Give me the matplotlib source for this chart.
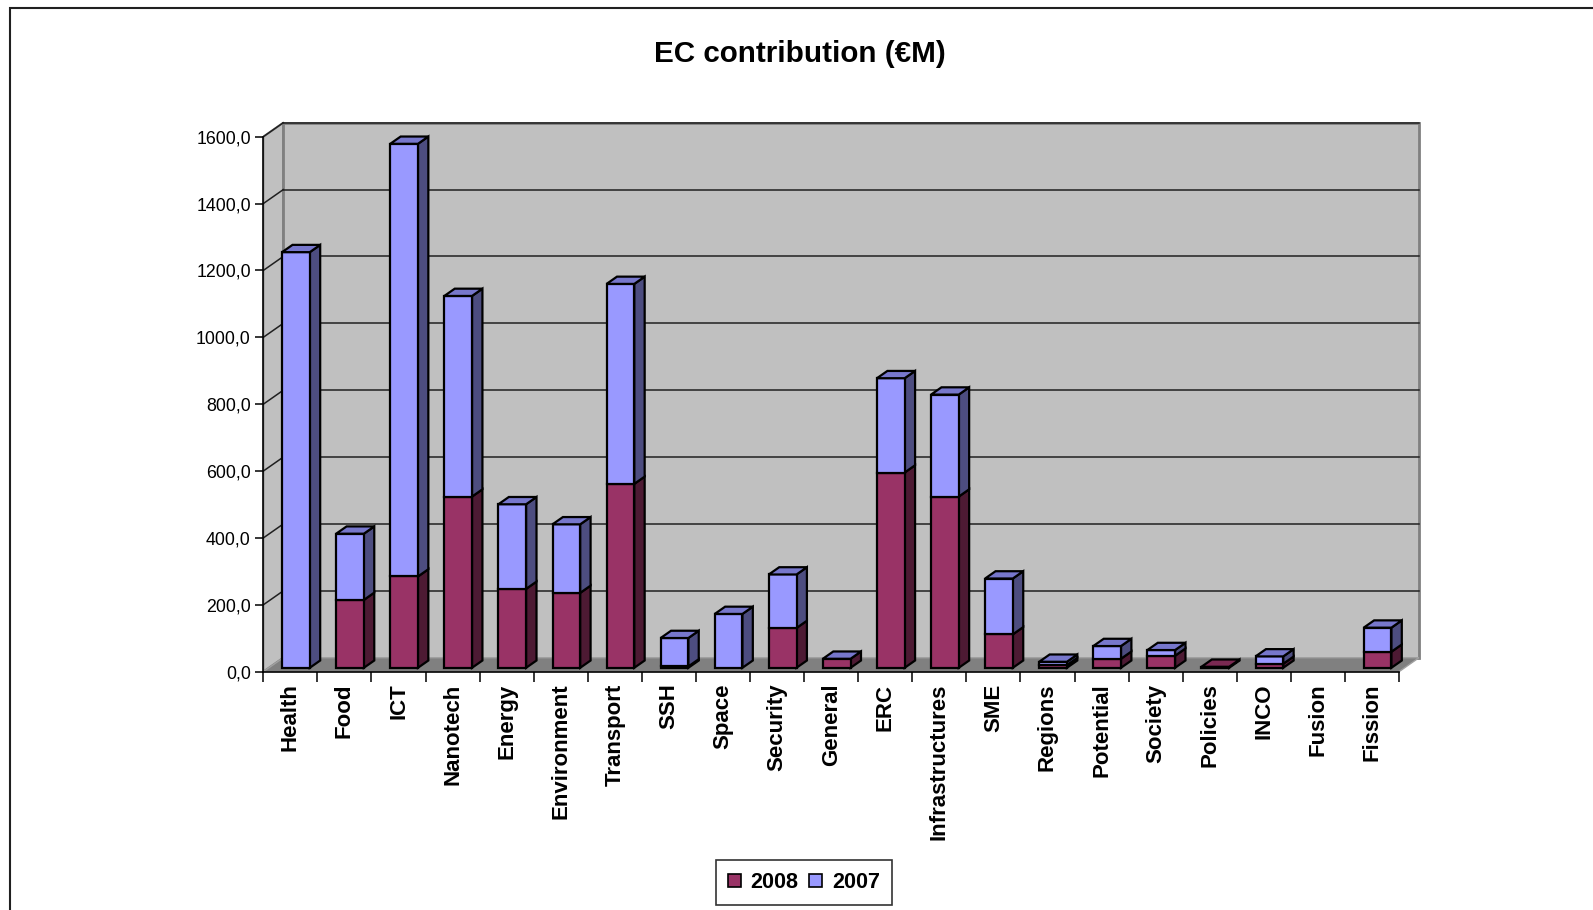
import numpy as np
import matplotlib
matplotlib.use('Agg')
import matplotlib.pyplot as plt
from matplotlib.patches import Polygon, Rectangle, Patch

plt.rcParams['font.family'] = ['Liberation Sans', 'DejaVu Sans']

# data (EUR million)
categories = ['Health', 'Food', 'ICT', 'Nanotech', 'Energy', 'Environment', 'Transport',
              'SSH', 'Space', 'Security', 'General', 'ERC', 'Infrastructures', 'SME',
              'Regions', 'Potential', 'Society', 'Policies', 'INCO', 'Fusion', 'Fission']
v2008 = [0, 203, 273, 512, 236, 224, 550, 4, 0, 119, 27, 584, 512, 100,
         8, 27, 36, 3, 12, np.nan, 48]
v2007 = [1243, 198, 1294, 600, 253, 205, 598, 85, 161, 160, 0, 282, 305, 167,
         10, 38, 17, np.nan, 22, np.nan, 72]
yticks = [0, 200, 400, 600, 800, 1000, 1200, 1400, 1600]
series = [('2008', v2008), ('2007', v2007)]

colors = {
    '2008': {'front': '#993366', 'side': '#4D1A33', 'top': '#7A2952'},
    '2007': {'front': '#9999FF', 'side': '#4D4D80', 'top': '#7777CC'},
}

W, H = 1593, 910
fig = plt.figure(figsize=(W / 100, H / 100), dpi=100)

# pixel geometry of the front plane
x_left, x_right = 263.3, 1399.0
y_zero, y_top = 671.7, 136.7
n = len(categories)
px_cat = (x_right - x_left) / n
px_val = (y_zero - y_top) / 1600
DX = 20 / px_cat          # depth offset, category units
DY = 14 / px_val          # depth offset, value units
xmax = n + DX + 0.06
ymax = 1600 + DY + 5
right_px = x_left + xmax * px_cat
top_px = y_zero - ymax * px_val
ax = fig.add_axes([x_left / W, 1 - y_zero / H,
                   (right_px - x_left) / W, (y_zero - top_px) / H])
ax.set_xlim(0, xmax)
ax.set_ylim(0, ymax)
ax.set_facecolor('none')

wall = '#C0C0C0'
edge = '#808080'
# left side wall
ax.add_patch(Polygon([(0, 0), (DX, DY), (DX, 1600 + DY), (0, 1600)], closed=True,
                     facecolor=wall, edgecolor=edge, lw=1.5, zorder=0))
# back wall
ax.add_patch(Rectangle((DX, DY), n, 1600, facecolor=wall, edgecolor=edge, lw=2, zorder=0))
# floor
ax.add_patch(Polygon([(0, 0), (n, 0), (n + DX, DY), (DX, DY)], closed=True,
                     facecolor='#808080', edgecolor='#A0A0A0', lw=1, zorder=0.5))
# gridlines on walls
for v in yticks[1:]:
    ax.plot([DX, n + DX], [v + DY, v + DY], color='#202020', lw=1.1, zorder=0.6)
    ax.plot([0, DX], [v, v + DY], color='#202020', lw=1.1, zorder=0.6)

# 3D-looking stacked bars
f = 0.28      # front face position within the depth
d = 0.52      # bar depth as fraction of full depth
w = 0.512     # bar width in category units
for i in range(n):
    x0 = i + 0.5 - w / 2 + f * DX
    base = 0.0
    top_color = None
    for name, vals in series:
        v = vals[i]
        if np.isnan(v):
            continue
        c = colors[name]
        b = base + f * DY
        if v > 0:
            ax.bar(x0, v, width=w, bottom=b, align='edge', color=c['front'],
                   edgecolor='black', lw=1.6, zorder=2 + i * 0.01)
            ax.add_patch(Polygon([(x0 + w, b), (x0 + w + d * DX, b + d * DY),
                                  (x0 + w + d * DX, b + v + d * DY), (x0 + w, b + v)],
                                 closed=True, facecolor=c['side'], edgecolor='black',
                                 lw=1.6, zorder=1.9 + i * 0.01))
        base += v
        top_color = c['top']
    if top_color is not None:
        t = base + f * DY
        ax.add_patch(Polygon([(x0, t), (x0 + w, t), (x0 + w + d * DX, t + d * DY),
                              (x0 + d * DX, t + d * DY)], closed=True,
                             facecolor=top_color, edgecolor='black', lw=1.6,
                             zorder=2.05 + i * 0.01))

# axes lines, ticks and labels
for s in ['top', 'right']:
    ax.spines[s].set_visible(False)
ax.spines['left'].set_bounds(0, 1600)
ax.spines['bottom'].set_bounds(0, n)
ax.spines['left'].set_linewidth(1.2)
ax.spines['bottom'].set_linewidth(1.2)
ax.set_yticks(yticks)
ax.set_yticklabels([f'{v},0' for v in yticks], fontsize=12.8)
ax.tick_params(axis='y', direction='out', length=6, width=1.1, pad=3)
ax.set_xticks(np.arange(n + 1))
ax.set_xticklabels([])
ax.tick_params(axis='x', which='major', direction='out', length=7, width=1.1)
ax.set_xticks(np.arange(n) + 0.5, minor=True)
ax.set_xticklabels(categories, minor=True, rotation=90, fontsize=16, fontweight='bold')
ax.tick_params(axis='x', which='minor', length=0, pad=8.5)

fig.text(800 / W, 1 - 54.5 / H, 'EC contribution (€M)', ha='center', va='center',
         fontsize=21.3, fontweight='bold')

handles = [Patch(facecolor=colors[k]['front'], edgecolor='black', lw=1.2) for k, _ in series]
leg = fig.legend(handles, [k for k, _ in series], loc='center',
                 bbox_to_anchor=(804 / W, 1 - 882.7 / H),
                 ncol=2, frameon=True, fancybox=False, shadow=False, handlelength=0.6,
                 handleheight=0.6, handletextpad=0.45, columnspacing=0.5, borderpad=0.55,
                 borderaxespad=0, prop={'size': 15.6, 'weight': 'bold'})
leg.get_frame().set_edgecolor('black')
leg.get_frame().set_linewidth(1.2)

# outer chart frame (cut by the image edges on right and bottom)
fig.add_artist(Rectangle((10 / W, -0.05), 1.2, 1 - 8 / H + 0.05, transform=fig.transFigure,
                         fill=False, edgecolor='#202020', lw=1.5))

fig.savefig('out.png', dpi=100)
